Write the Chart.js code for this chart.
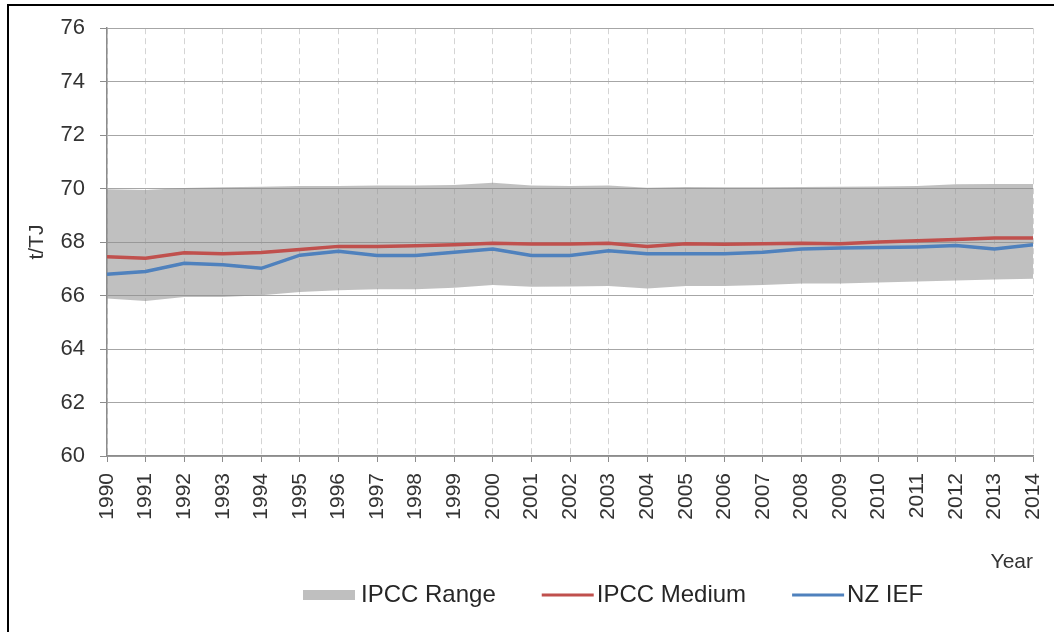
<!DOCTYPE html>
<html>
<head>
<meta charset="utf-8">
<title>IPCC range vs NZ IEF</title>
<script src="https://cdn.jsdelivr.net/npm/chart.js@4.4.1/dist/chart.umd.min.js"></script>
<style>
  body { margin: 0; background: #fff; }
  #wrap { position: relative; width: 1054px; height: 632px; overflow: hidden; }
  #frame { position: absolute; left: 7px; top: 4px; right: -10px; bottom: -10px; border-left: 2px solid #000; border-top: 2px solid #000; pointer-events: none; }
  canvas { position: absolute; left: 0; top: 0; }
</style>
</head>
<body>
<div id="wrap">
  <canvas id="chart" width="1054" height="632"></canvas>
  <div id="frame"></div>
</div>
<script>
const years = ["1990", "1991", "1992", "1993", "1994", "1995", "1996", "1997", "1998", "1999",
  "2000", "2001", "2002", "2003", "2004", "2005", "2006", "2007", "2008", "2009",
  "2010", "2011", "2012", "2013", "2014"];

// IPCC range, lower and upper edge (t/TJ)
const rangeLow = [65.89, 65.80, 65.95, 65.95, 66.01, 66.13, 66.20, 66.24, 66.24, 66.29,
  66.40, 66.33, 66.34, 66.36, 66.26, 66.36, 66.36, 66.40, 66.45, 66.45,
  66.49, 66.53, 66.56, 66.60, 66.63];
const rangeHigh = [69.98, 69.95, 70.02, 70.05, 70.07, 70.10, 70.10, 70.12, 70.12, 70.14,
  70.22, 70.12, 70.10, 70.12, 70.03, 70.06, 70.05, 70.05, 70.06, 70.07,
  70.08, 70.10, 70.16, 70.17, 70.17];

const ipccMedium = [67.45, 67.40, 67.60, 67.56, 67.61, 67.72, 67.84, 67.84, 67.86, 67.90,
  67.96, 67.93, 67.93, 67.96, 67.84, 67.94, 67.92, 67.94, 67.96, 67.94,
  68.00, 68.05, 68.10, 68.15, 68.15];

const nzIef = [66.80, 66.90, 67.21, 67.15, 67.02, 67.51, 67.66, 67.50, 67.50, 67.62,
  67.74, 67.50, 67.50, 67.68, 67.56, 67.56, 67.56, 67.62, 67.74, 67.78,
  67.80, 67.82, 67.87, 67.74, 67.90];

const yTicks = [60, 62, 64, 66, 68, 70, 72, 74, 76];

const FONT = '"Liberation Sans", Arial, sans-serif';

// legend drawn under the x axis, Excel style
const bottomLegend = {
  id: "bottomLegend",
  afterDraw(chart) {
    const ctx = chart.ctx;
    const y = 595;
    let x = 303;
    ctx.save();
    ctx.font = "24px " + FONT;
    ctx.textBaseline = "middle";
    chart.data.datasets.forEach((ds) => {
      if (!ds.label) return;
      if (ds.fill) {
        ctx.fillStyle = "#bfbfbf";
        ctx.fillRect(x, y - 5, 52, 10);
      } else {
        ctx.strokeStyle = ds.borderColor;
        ctx.lineWidth = 3;
        ctx.beginPath();
        ctx.moveTo(x, y);
        ctx.lineTo(x + 52, y);
        ctx.stroke();
      }
      const tx = x + 52 + (ds.fill ? 6 : 3);
      ctx.fillStyle = "#262626";
      ctx.fillText(ds.label, tx, y);
      x = tx + ctx.measureText(ds.label).width + 46;
    });
    ctx.restore();
  }
};

new Chart(document.getElementById("chart"), {
  type: "line",
  data: {
    labels: years,
    datasets: [
      {
        label: "",
        data: rangeLow,
        borderWidth: 0,
        pointRadius: 0,
        fill: false
      },
      {
        label: "IPCC Range",
        data: rangeHigh,
        borderWidth: 0,
        pointRadius: 0,
        backgroundColor: "rgba(140,140,140,0.55)",
        fill: "-1"
      },
      {
        label: "IPCC Medium",
        data: ipccMedium,
        borderColor: "#c0504d",
        borderWidth: 3.5,
        pointRadius: 0,
        tension: 0,
        fill: false
      },
      {
        label: "NZ IEF",
        data: nzIef,
        borderColor: "#4f81bd",
        borderWidth: 3.5,
        pointRadius: 0,
        tension: 0,
        fill: false
      }
    ]
  },
  options: {
    responsive: false,
    animation: false,
    layout: { padding: { left: 0, right: 21, top: 27, bottom: 56 } },
    plugins: {
      legend: { display: false },
      tooltip: { enabled: false },
      filler: { drawTime: "beforeDatasetsDraw" }
    },
    scales: {
      x: {
        offset: false,
        grid: {
          color: "#d4d4d4",
          tickColor: "#8c8c8c",
          tickLength: 6
        },
        border: { color: "#8c8c8c", width: 1.5, dash: [6, 4] },
        ticks: {
          autoSkip: false,
          minRotation: 90,
          maxRotation: 90,
          padding: 11,
          color: "#333",
          font: { family: FONT, size: 21 }
        },
        title: {
          display: true,
          text: "Year",
          align: "end",
          color: "#333",
          padding: { top: 0, bottom: 1 },
          font: { family: FONT, size: 21 }
        },
        afterFit(scale) {
          scale.height = 120;
          scale.paddingLeft = 0;
          scale.paddingRight = 0;
        }
      },
      y: {
        min: 60,
        max: 76,
        afterBuildTicks(scale) {
          scale.ticks = yTicks.map((v) => ({ value: v }));
        },
        grid: {
          color: "#a6a6a6",
          tickColor: "#8c8c8c",
          tickLength: 7
        },
        border: { color: "#8c8c8c", width: 1.5 },
        ticks: {
          padding: 15,
          color: "#333",
          font: { family: FONT, size: 22 }
        },
        title: {
          display: true,
          text: "t/TJ",
          color: "#333",
          padding: { top: 25, bottom: 0 },
          font: { family: FONT, size: 21 }
        },
        afterFit(scale) { scale.width = 107; }
      }
    }
  },
  plugins: [bottomLegend]
});
</script>
</body>
</html>
